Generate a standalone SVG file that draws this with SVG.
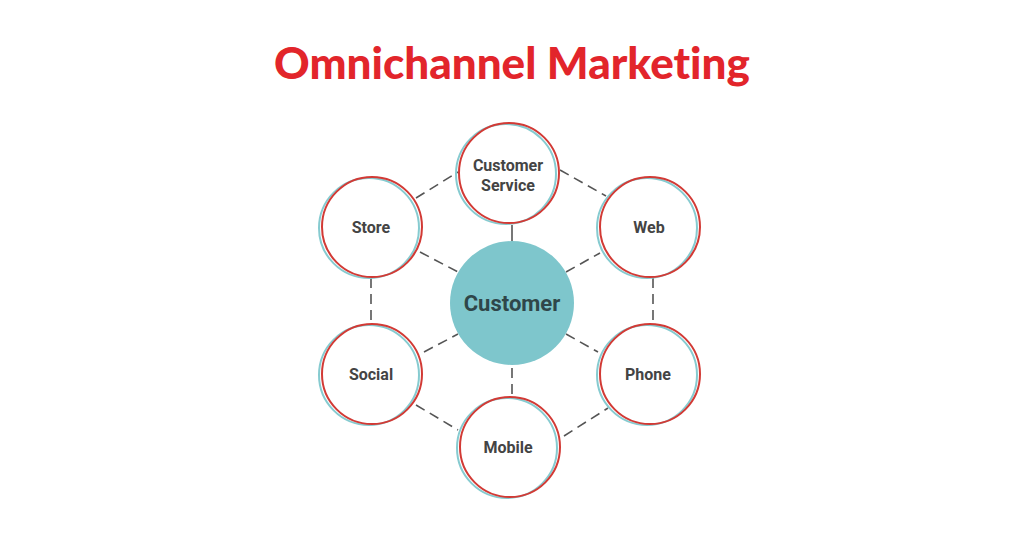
<svg xmlns="http://www.w3.org/2000/svg" width="1024" height="536" viewBox="0 0 1024 536">
<style>
.title{font-family:Lato,"Open Sans",sans-serif;font-weight:900;font-size:44px;fill:#e2252b;font-variant-ligatures:none}
.lbl{font-family:Roboto,"Liberation Sans",sans-serif;font-weight:700;font-size:16px;fill:#444;text-anchor:middle}
.ctr{font-family:Roboto,"Liberation Sans",sans-serif;font-weight:700;font-size:22px;fill:#2f4649;text-anchor:middle}
.teal{fill:none;stroke:#86cbd0;stroke-width:2}
.red{fill:#fff;fill-opacity:0;stroke:#d23a35;stroke-width:2}
.bg{fill:#fff}
.dash{stroke:#555;stroke-width:1.6;stroke-dasharray:10 6;fill:none}
</style>
<rect width="1024" height="536" fill="#fff"/>
<text class="title" x="512" y="79" text-anchor="middle">Omnichannel Marketing</text>
<g id="connectors">
<line class="dash" x1="416" y1="198" x2="458" y2="172"/>
<line class="dash" x1="560" y1="170" x2="606" y2="196"/>
<line class="dash" x1="371" y1="278" x2="371" y2="323"/>
<line class="dash" x1="653" y1="278" x2="653" y2="323"/>
<line class="dash" x1="416" y1="405" x2="458" y2="430"/>
<line class="dash" x1="564" y1="436" x2="608" y2="408"/>
<line x1="512" y1="225" x2="512" y2="241" stroke="#555" stroke-width="1.6"/>
<line class="dash" x1="420" y1="252" x2="458" y2="272"/>
<line class="dash" x1="566" y1="272" x2="600" y2="253"/>
<line class="dash" x1="424" y1="352" x2="458" y2="334"/>
<line class="dash" x1="566" y1="334" x2="598" y2="352"/>
<line class="dash" x1="512" y1="368" x2="512" y2="397" stroke-dasharray="9 5"/>
</g>
<g id="customer">
<circle cx="512" cy="303" r="62" fill="#7ec6cc"/>
<text class="ctr" x="512" y="311">Customer</text>
</g>
<g id="customer-service">
<circle class="bg" cx="508" cy="173" r="50"/>
<circle class="teal" cx="506" cy="174" r="50"/>
<circle class="red" cx="509" cy="173" r="50"/>
<text class="lbl" x="508" y="171">Customer</text>
<text class="lbl" x="508" y="191">Service</text>
</g>
<g id="store">
<circle class="bg" cx="371" cy="227" r="50"/>
<circle class="teal" cx="369" cy="228" r="50"/>
<circle class="red" cx="372" cy="227" r="50"/>
<text class="lbl" x="371" y="233">Store</text>
</g>
<g id="web">
<circle class="bg" cx="649" cy="227" r="50"/>
<circle class="teal" cx="647" cy="228" r="50"/>
<circle class="red" cx="650" cy="227" r="50"/>
<text class="lbl" x="649" y="233">Web</text>
</g>
<g id="social">
<circle class="bg" cx="371" cy="374" r="50"/>
<circle class="teal" cx="369" cy="375" r="50"/>
<circle class="red" cx="372" cy="374" r="50"/>
<text class="lbl" x="371" y="380">Social</text>
</g>
<g id="phone">
<circle class="bg" cx="649" cy="374" r="50"/>
<circle class="teal" cx="647" cy="375" r="50"/>
<circle class="red" cx="650" cy="374" r="50"/>
<text class="lbl" x="648" y="380">Phone</text>
</g>
<g id="mobile">
<circle class="bg" cx="509" cy="447" r="50"/>
<circle class="teal" cx="507" cy="448" r="50"/>
<circle class="red" cx="510" cy="447" r="50"/>
<text class="lbl" x="508" y="453">Mobile</text>
</g>
</svg>
